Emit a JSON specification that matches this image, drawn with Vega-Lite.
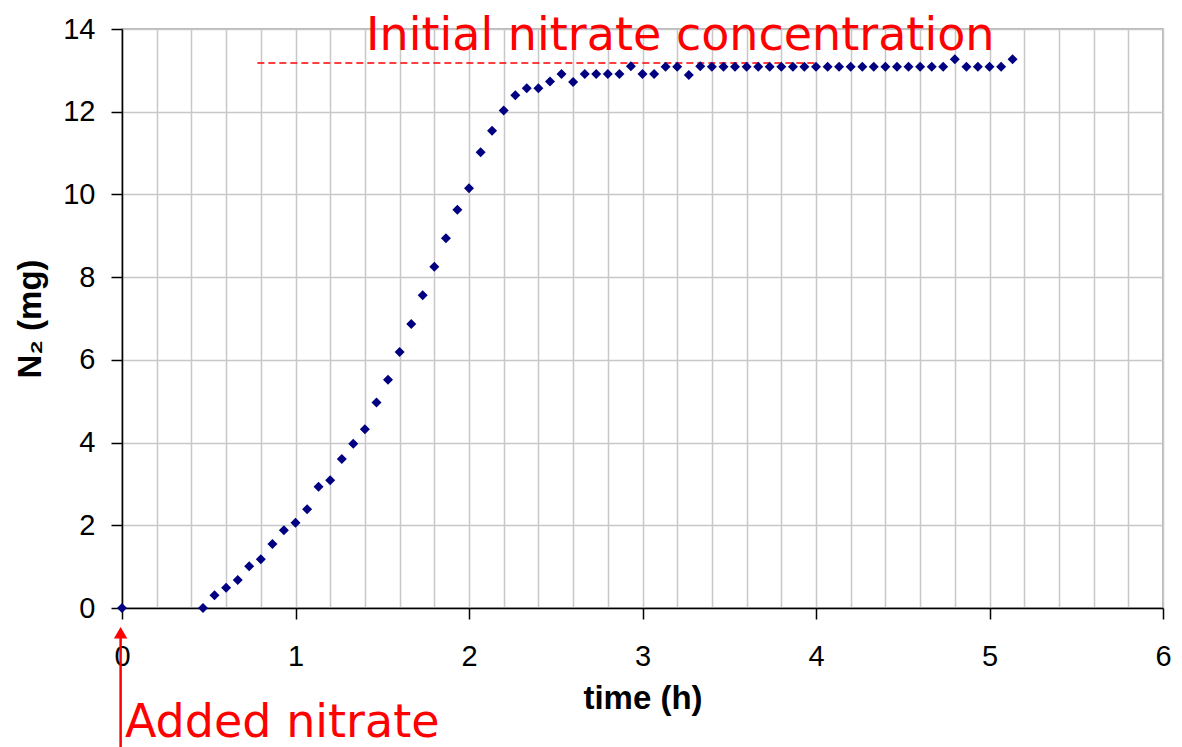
{
  "$schema": "https://vega.github.io/schema/vega-lite/v6.json",
  "width": 1041,
  "height": 579,
  "autosize": {"type": "none"},
  "padding": {"left": 122, "top": 29, "right": 19, "bottom": 139},
  "background": "white",
  "config": {"view": {"stroke": "#a0a0a0", "strokeWidth": 1.5}},
  "datasets": {
    "pts": [
      {"x": 0, "y": 0},
      {"x": 0.467, "y": 0},
      {"x": 0.533, "y": 0.31},
      {"x": 0.6, "y": 0.49},
      {"x": 0.667, "y": 0.68},
      {"x": 0.733, "y": 1.01},
      {"x": 0.8, "y": 1.18},
      {"x": 0.867, "y": 1.55},
      {"x": 0.933, "y": 1.88},
      {"x": 1.0, "y": 2.06},
      {"x": 1.067, "y": 2.39},
      {"x": 1.133, "y": 2.93},
      {"x": 1.2, "y": 3.09},
      {"x": 1.267, "y": 3.6},
      {"x": 1.333, "y": 3.97},
      {"x": 1.4, "y": 4.32},
      {"x": 1.467, "y": 4.97},
      {"x": 1.533, "y": 5.52},
      {"x": 1.6, "y": 6.19},
      {"x": 1.667, "y": 6.87},
      {"x": 1.733, "y": 7.56},
      {"x": 1.8, "y": 8.25},
      {"x": 1.867, "y": 8.94},
      {"x": 1.933, "y": 9.63},
      {"x": 2.0, "y": 10.15},
      {"x": 2.067, "y": 11.02},
      {"x": 2.133, "y": 11.54},
      {"x": 2.2, "y": 12.03},
      {"x": 2.267, "y": 12.4},
      {"x": 2.333, "y": 12.57},
      {"x": 2.4, "y": 12.57},
      {"x": 2.467, "y": 12.73},
      {"x": 2.533, "y": 12.91},
      {"x": 2.6, "y": 12.72},
      {"x": 2.667, "y": 12.91},
      {"x": 2.733, "y": 12.91},
      {"x": 2.8, "y": 12.91},
      {"x": 2.867, "y": 12.91},
      {"x": 2.933, "y": 13.1},
      {"x": 3.0, "y": 12.91},
      {"x": 3.067, "y": 12.91},
      {"x": 3.133, "y": 13.09},
      {"x": 3.2, "y": 13.09},
      {"x": 3.267, "y": 12.89},
      {"x": 3.333, "y": 13.1},
      {"x": 3.4, "y": 13.09},
      {"x": 3.467, "y": 13.09},
      {"x": 3.533, "y": 13.09},
      {"x": 3.6, "y": 13.09},
      {"x": 3.667, "y": 13.09},
      {"x": 3.733, "y": 13.09},
      {"x": 3.8, "y": 13.09},
      {"x": 3.867, "y": 13.09},
      {"x": 3.933, "y": 13.09},
      {"x": 4.0, "y": 13.09},
      {"x": 4.067, "y": 13.09},
      {"x": 4.133, "y": 13.09},
      {"x": 4.2, "y": 13.09},
      {"x": 4.267, "y": 13.09},
      {"x": 4.333, "y": 13.09},
      {"x": 4.4, "y": 13.09},
      {"x": 4.467, "y": 13.09},
      {"x": 4.533, "y": 13.09},
      {"x": 4.6, "y": 13.09},
      {"x": 4.667, "y": 13.09},
      {"x": 4.733, "y": 13.09},
      {"x": 4.8, "y": 13.27},
      {"x": 4.867, "y": 13.09},
      {"x": 4.933, "y": 13.09},
      {"x": 5.0, "y": 13.09},
      {"x": 5.067, "y": 13.09},
      {"x": 5.133, "y": 13.27}
    ],
    "dash": [{"x": 0.78, "x2": 4.0, "y": 13.18}],
    "arrow": [{"x": -0.008, "y": -0.6, "y2": -3.4}],
    "head": [{"x": -0.008, "y": -0.6}],
    "notes": [
      {"x": 1.406, "y": 13.49, "label": "Initial nitrate concentration"},
      {"x": 0.017, "y": -3.12, "label": "Added nitrate"}
    ]
  },
  "encoding": {
    "x": {
      "field": "x",
      "type": "quantitative",
      "scale": {"domain": [0, 6], "nice": false, "zero": false},
      "axis": {
        "title": "time (h)",
        "values": [0, 0.2, 0.4, 0.6, 0.8, 1, 1.2, 1.4, 1.6, 1.8, 2, 2.2, 2.4, 2.6, 2.8, 3, 3.2, 3.4, 3.6, 3.8, 4, 4.2, 4.4, 4.6, 4.8, 5, 5.2, 5.4, 5.6, 5.8, 6],
        "labelExpr": "abs(datum.value - round(datum.value)) < 0.001 ? format(datum.value, 'd') : ''",
        "tickOpacity": {"condition": {"test": "abs(datum.value - round(datum.value)) < 0.001", "value": 1}, "value": 0},
        "grid": true,
        "gridColor": "#c8c8c8",
        "gridWidth": 1.5,
        "domainColor": "black",
        "domainWidth": 1.5,
        "tickColor": "black",
        "tickSize": 11,
        "tickWidth": 1.5,
        "labelFont": "Liberation Sans",
        "labelFontSize": 29,
        "labelColor": "black",
        "labelPadding": 23,
        "labelOverlap": false,
        "labelFlush": false,
        "titleFont": "Liberation Sans",
        "titleFontSize": 33,
        "titleFontWeight": "bold",
        "titleColor": "black",
        "titleBaseline": "middle",
        "titleX": 520.5,
        "titleY": 90
      }
    },
    "y": {
      "field": "y",
      "type": "quantitative",
      "scale": {"domain": [0, 14], "nice": false, "zero": false},
      "axis": {
        "title": "N₂ (mg)",
        "values": [0, 2, 4, 6, 8, 10, 12, 14],
        "grid": true,
        "gridColor": "#c8c8c8",
        "gridWidth": 1.5,
        "domainColor": "black",
        "domainWidth": 1.5,
        "tickColor": "black",
        "tickSize": 11,
        "tickWidth": 1.5,
        "labelFont": "Liberation Sans",
        "labelFontSize": 29,
        "labelColor": "black",
        "labelPadding": 16,
        "labelOverlap": false,
        "labelFlush": false,
        "titleFont": "Liberation Sans",
        "titleFontSize": 33,
        "titleFontWeight": "bold",
        "titleColor": "black",
        "titleAngle": 270,
        "titleBaseline": "middle",
        "titleAlign": "center",
        "titleX": -92,
        "titleY": 289.5
      }
    }
  },
  "layer": [
    {
      "data": {"name": "dash"},
      "mark": {"type": "rule", "color": "#ff0000", "strokeWidth": 1.5, "strokeDash": [7, 4]},
      "encoding": {"x2": {"field": "x2"}}
    },
    {
      "data": {"name": "pts"},
      "mark": {"type": "point", "shape": "diamond", "filled": true, "color": "#000080", "opacity": 1, "size": 100}
    },
    {
      "data": {"name": "arrow"},
      "mark": {"type": "rule", "color": "#ff0000", "strokeWidth": 2.5},
      "encoding": {"y2": {"field": "y2"}}
    },
    {
      "data": {"name": "head"},
      "mark": {"type": "point", "shape": "triangle-up", "filled": true, "color": "#ff0000", "opacity": 1, "size": 180}
    },
    {
      "data": {"name": "notes"},
      "mark": {"type": "text", "align": "left", "baseline": "alphabetic", "font": "DejaVu Sans", "fontSize": 46, "color": "#ff0000"},
      "encoding": {"text": {"field": "label"}}
    }
  ]
}
